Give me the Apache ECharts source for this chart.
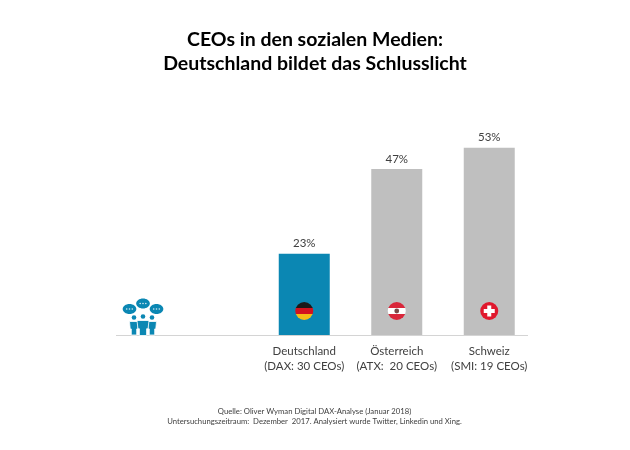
<!DOCTYPE html>
<html lang="de">
<head>
<meta charset="UTF-8">
<title>CEOs in den sozialen Medien</title>
<script src="https://cdn.jsdelivr.net/npm/echarts@6/dist/echarts.min.js"></script>
<style>
    html, body { margin: 0; padding: 0; background: #fff; }
    #chart { width: 630px; height: 450px; }
</style>
</head>
<body>
<div id="chart"></div>
<script>
var categories = ['Deutschland\n(DAX: 30 CEOs)', 'Österreich\n(ATX:  20 CEOs)', 'Schweiz\n(SMI: 19 CEOs)'];
var shares = [23, 47, 53];
var flags = ['de', 'at', 'ch'];

var BLUE = '#0b87b3';
var GREY = '#bfbfbf';
var FONT = 'Lato, "Open Sans", sans-serif';

var chart = echarts.init(document.getElementById('chart'));

function stripes(colors) {
    var stops = [];
    colors.forEach(function (c, i) {
        stops.push({ offset: i / colors.length, color: c });
        stops.push({ offset: (i + 1) / colors.length, color: c });
    });
    return new echarts.graphic.LinearGradient(0, 0, 0, 1, stops);
}

// round flags sit inside the bars, just above the axis
function renderFlag(params, api) {
    var p = api.coord([api.value(0), 0]);
    var x = p[0], y = p[1] - 24, r = 9;
    var kids = [];
    var code = flags[params.dataIndex];
    var fill = '#e0182d';
    if (code === 'de') fill = stripes(['#1a1a1a', '#d3121f', '#f6bd16']);
    if (code === 'at') fill = stripes(['#d9263a', '#ffffff', '#d9263a']);
    kids.push({ type: 'circle', shape: { cx: x, cy: y, r: r }, style: { fill: fill } });
    if (code === 'at') {
        kids.push({ type: 'circle', shape: { cx: x, cy: y, r: 2.4 }, style: { fill: '#7a4a48' } });
    }
    if (code === 'ch') {
        kids.push({ type: 'rect', shape: { x: x - 5.5, y: y - 2, width: 11, height: 4 }, style: { fill: '#fff' } });
        kids.push({ type: 'rect', shape: { x: x - 2, y: y - 5.5, width: 4, height: 11 }, style: { fill: '#fff' } });
    }
    return { type: 'group', children: kids };
}

// people with speech bubbles, left of the bars
function bubble(cx, cy) {
    var parts = [{ type: 'ellipse', shape: { cx: cx, cy: cy, rx: 6.8, ry: 5 }, style: { fill: BLUE } }];
    [-2.8, 0, 2.8].forEach(function (d) {
        parts.push({ type: 'circle', shape: { cx: cx + d, cy: cy, r: 0.8 }, style: { fill: '#d5eaf2' } });
    });
    return parts;
}

function person(cx, top, w, h) {
    return [
        { type: 'circle', shape: { cx: cx, cy: top - 4, r: 2.3 }, style: { fill: BLUE } },
        { type: 'polygon', shape: { points: [
            [cx - w / 2, top], [cx + w / 2, top], [cx + w * 0.42, top + h * 0.55],
            [cx + w * 0.3, top + h * 0.55], [cx + w * 0.3, top + h], [cx - w * 0.3, top + h],
            [cx - w * 0.3, top + h * 0.55], [cx - w * 0.42, top + h * 0.55]
        ] }, style: { fill: BLUE, stroke: '#fff', lineWidth: 0.8 } }
    ];
}

var icon = [].concat(
    bubble(129.5, 309), bubble(143, 303.5), bubble(156.5, 309),
    person(134, 321.5, 9, 13.5), person(152, 321.5, 9, 13.5), person(143, 320.5, 12, 15)
);

var option = {
    animation: false,
    title: [
        {
            text: 'CEOs in den sozialen Medien:\nDeutschland bildet das Schlusslicht',
            left: 315, top: 28, textAlign: 'center', padding: 0,
            textStyle: { fontFamily: FONT, fontSize: 19.5, fontWeight: 'bold', color: '#000', lineHeight: 24 }
        },
        {
            text: 'Quelle: Oliver Wyman Digital DAX-Analyse (Januar 2018)\nUntersuchungszeitraum:  Dezember  2017. Analysiert wurde Twitter, Linkedin und Xing.',
            left: 314.5, top: 406, textAlign: 'center', padding: 0,
            textStyle: { fontFamily: FONT, fontSize: 7.7, fontWeight: 'normal', color: '#404040', lineHeight: 10.5 }
        }
    ],
    grid: { left: 258, right: 94.5, top: 123, bottom: 115 },
    xAxis: {
        type: 'category',
        data: categories,
        axisLine: { show: false },
        axisTick: { show: false },
        axisLabel: { fontFamily: FONT, fontSize: 11.5, color: '#404040', lineHeight: 15, margin: 9, interval: 0 }
    },
    yAxis: { type: 'value', min: 0, max: 60, show: false },
    graphic: [
        { type: 'line', z: 0, shape: { x1: 116, y1: 335.5, x2: 528, y2: 335.5 }, style: { stroke: '#d4d4d4', lineWidth: 1 } },
        { type: 'group', children: icon }
    ],
    series: [
        {
            type: 'bar',
            barWidth: 51,
            data: shares.map(function (v, i) {
                return { value: v, itemStyle: { color: i === 0 ? BLUE : GREY } };
            }),
            label: {
                show: true, position: 'top', distance: 4, formatter: '{c}%',
                fontFamily: FONT, fontSize: 11.5, color: '#404040'
            }
        },
        {
            type: 'custom',
            z: 5,
            renderItem: renderFlag,
            data: categories.map(function (c, i) { return [i]; })
        }
    ]
};

chart.setOption(option);
</script>
</body>
</html>
